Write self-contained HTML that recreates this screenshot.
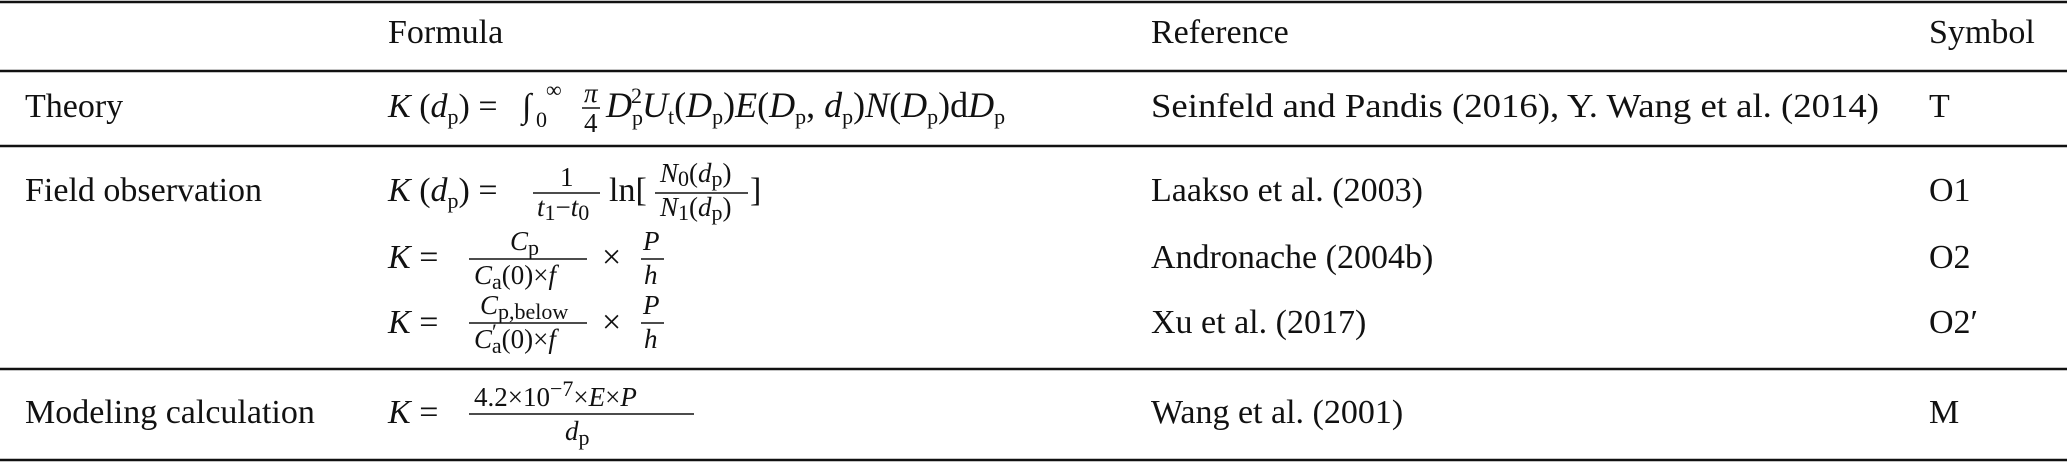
<!DOCTYPE html>
<html><head><meta charset="utf-8"><style>
html,body{margin:0;padding:0;background:#fff}
svg{display:block}
text{font-family:"Liberation Serif","DejaVu Serif",serif;fill:#111}
.m{font-size:34px}
.i{font-style:italic}
.f{font-size:27px}
.s{font-size:22px}
</style></head><body>
<svg width="2067" height="462" viewBox="0 0 2067 462" xmlns="http://www.w3.org/2000/svg">
<g stroke="#111" stroke-width="2.5">
<line x1="0" y1="2" x2="2067" y2="2"/>
<line x1="0" y1="71" x2="2067" y2="71"/>
<line x1="0" y1="146" x2="2067" y2="146"/>
<line x1="0" y1="369" x2="2067" y2="369"/>
<line x1="0" y1="460" x2="2067" y2="460"/>
</g>
<text class="m" x="388" y="43">Formula</text>
<text class="m" x="1151" y="43">Reference</text>
<text class="m" x="1929" y="43">Symbol</text>
<text class="m" x="25" y="117">Theory</text>
<text class="m" x="25" y="201">Field observation</text>
<text class="m" x="25" y="423">Modeling calculation</text>
<text class="m" x="1151" y="117" textLength="728" lengthAdjust="spacingAndGlyphs">Seinfeld and Pandis (2016), Y. Wang et al. (2014)</text>
<text class="m" x="1151" y="201">Laakso et al. (2003)</text>
<text class="m" x="1151" y="268">Andronache (2004b)</text>
<text class="m" x="1151" y="333">Xu et al. (2017)</text>
<text class="m" x="1151" y="423">Wang et al. (2001)</text>
<text class="m" x="1929" y="117">T</text>
<text class="m" x="1929" y="201">O1</text>
<text class="m" x="1929" y="268">O2</text>
<text class="m" x="1929" y="333">O2′</text>
<text class="m" x="1929" y="423">M</text>

<text class="m" x="388" y="117"><tspan class="i">K</tspan> (<tspan class="i">d</tspan><tspan class="s" dy="7">p</tspan><tspan dy="-7">) =</tspan></text>
<text class="m" x="522" y="117">∫</text>
<text class="s" x="536" y="127">0</text>
<text class="s" x="546" y="97">∞</text>
<text class="f i" x="584" y="102">π</text>
<line x1="582" y1="108" x2="600" y2="108" stroke="#111" stroke-width="1.5"/>
<text class="f" x="584" y="132">4</text>
<text x="606" y="117" style="font-size:36px"><tspan class="i">D</tspan><tspan class="s" dy="8">p</tspan><tspan class="s" dx="-12" dy="-22">2</tspan><tspan class="i" dy="14">U</tspan><tspan class="s" dy="7">t</tspan><tspan dy="-7">(</tspan><tspan class="i">D</tspan><tspan class="s" dy="7">p</tspan><tspan dy="-7">)</tspan><tspan class="i">E</tspan>(<tspan class="i">D</tspan><tspan class="s" dy="7">p</tspan><tspan dy="-7">, </tspan><tspan class="i">d</tspan><tspan class="s" dy="7">p</tspan><tspan dy="-7">)</tspan><tspan class="i">N</tspan>(<tspan class="i">D</tspan><tspan class="s" dy="7">p</tspan><tspan dy="-7">)d</tspan><tspan class="i">D</tspan><tspan class="s" dy="7">p</tspan></text>

<text class="m" x="388" y="201"><tspan class="i">K</tspan> (<tspan class="i">d</tspan><tspan class="s" dy="7">p</tspan><tspan dy="-7">) =</tspan></text>
<text class="f" x="560" y="186">1</text>
<line x1="533" y1="193" x2="600" y2="193" stroke="#111" stroke-width="1.5"/>
<text class="f" x="537" y="216"><tspan class="i">t</tspan><tspan class="s" dy="4">1</tspan><tspan dy="-4">−</tspan><tspan class="i">t</tspan><tspan class="s" dy="4">0</tspan></text>
<text class="m" x="609" y="201">ln[</text>
<text class="f" x="660" y="182"><tspan class="i">N</tspan><tspan class="s" dy="4">0</tspan><tspan dy="-4">(</tspan><tspan class="i">d</tspan><tspan class="s" dy="4">p</tspan><tspan dy="-4">)</tspan></text>
<line x1="655" y1="193" x2="748" y2="193" stroke="#111" stroke-width="1.5"/>
<text class="f" x="660" y="216"><tspan class="i">N</tspan><tspan class="s" dy="4">1</tspan><tspan dy="-4">(</tspan><tspan class="i">d</tspan><tspan class="s" dy="4">p</tspan><tspan dy="-4">)</tspan></text>
<text class="m" x="750" y="201">]</text>

<text class="m" x="388" y="268"><tspan class="i">K</tspan> =</text>
<text class="f" x="510" y="250"><tspan class="i">C</tspan><tspan class="s" dy="5">p</tspan></text>
<line x1="469" y1="259" x2="587" y2="259" stroke="#111" stroke-width="1.5"/>
<text class="f" x="474" y="284"><tspan class="i">C</tspan><tspan class="s" dy="5">a</tspan><tspan dy="-5">(0)×</tspan><tspan class="i">f</tspan></text>
<text class="m" x="602" y="268">×</text>
<text class="f i" x="643" y="250">P</text>
<line x1="641" y1="259" x2="664" y2="259" stroke="#111" stroke-width="1.5"/>
<text class="f i" x="644" y="284">h</text>

<text class="m" x="388" y="333"><tspan class="i">K</tspan> =</text>
<text class="f" x="480" y="314"><tspan class="i">C</tspan><tspan class="s" dy="5">p,below</tspan></text>
<line x1="469" y1="323" x2="587" y2="323" stroke="#111" stroke-width="1.5"/>
<text class="f" x="474" y="348"><tspan class="i">C</tspan><tspan class="s" dy="-9">′</tspan><tspan class="s" dx="-5" dy="14">a</tspan><tspan dy="-5">(0)×</tspan><tspan class="i">f</tspan></text>
<text class="m" x="602" y="333">×</text>
<text class="f i" x="643" y="314">P</text>
<line x1="641" y1="323" x2="664" y2="323" stroke="#111" stroke-width="1.5"/>
<text class="f i" x="644" y="348">h</text>

<text class="m" x="388" y="423"><tspan class="i">K</tspan> =</text>
<text class="f" x="474" y="406">4.2×10<tspan class="s" dy="-10">−7</tspan><tspan dy="10">×</tspan><tspan class="i">E</tspan>×<tspan class="i">P</tspan></text>
<line x1="469" y1="414" x2="694" y2="414" stroke="#111" stroke-width="1.5"/>
<text class="f" x="565" y="440"><tspan class="i">d</tspan><tspan class="s" dy="5">p</tspan></text>
</svg>
</body></html>
